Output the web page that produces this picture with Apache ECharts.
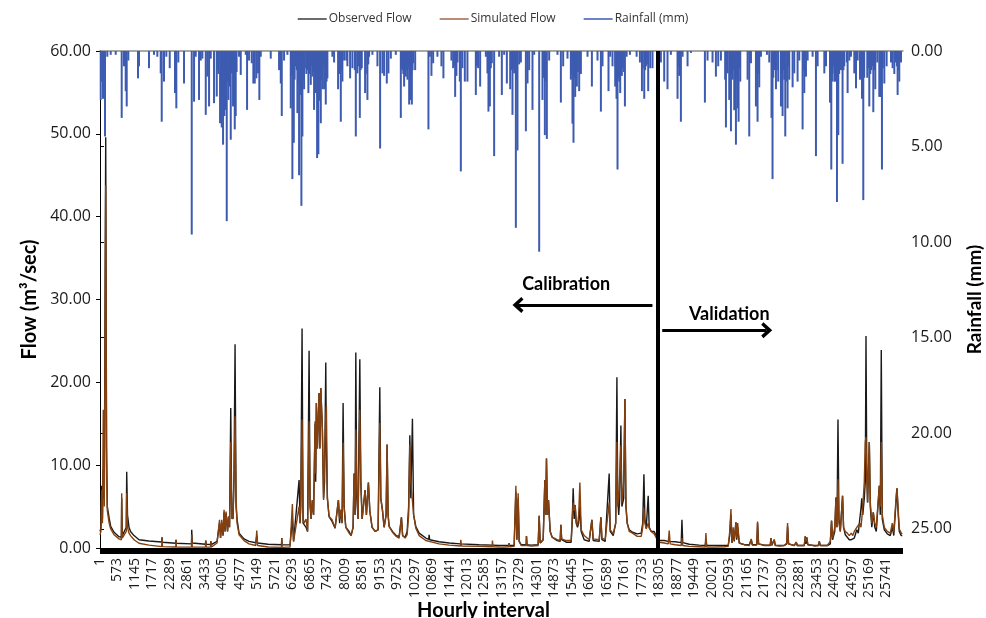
<!DOCTYPE html>
<html>
<head>
<meta charset="utf-8">
<script src="https://cdn.jsdelivr.net/npm/echarts@6/dist/echarts.min.js"></script>
<style>
  html, body { margin: 0; padding: 0; background: #fff; }
  #chart { width: 986px; height: 618px; }
</style>
</head>
<body>
<div id="chart"></div>
<script>
// Hourly record: [hour index, value]
const obsFlow = [
  [0,2.0],[30,2.4],[56,7.5],[80,3.5],[108,9.5],[140,6.0],[187,49.6],[215,12.0],[239,5.0],[300,3.6],[350,2.6],[460,1.9],[622,1.37],[700,1.3],[710,6.0],[730,1.5],[786,1.3],[860,2.5],[874,9.2],[900,4.0],[949,2.5],[1000,2.0],[1113,1.5],[1277,1.0],[1600,0.85],[2020,0.72],[2030,1.3],[2045,0.7],[2480,0.58],[2488,1.0],[2500,0.57],[2995,0.5],[3002,2.2],[3020,0.6],[3450,0.45],[3461,0.9],[3475,0.45],[3620,0.42],[3630,0.8],[3640,0.42],
  [3831,0.8],[3912,3.0],[3945,1.2],[3984,3.0],[4027,1.5],[4060,4.3],[4093,2.0],[4125,4.2],[4174,2.0],[4207,3.8],[4240,2.5],[4279,16.9],[4312,4.0],[4354,3.5],[4387,9.0],[4420,24.6],[4453,5.0],[4485,3.5],[4551,1.8],[4715,1.1],[4878,0.8],[5098,0.64],[5131,1.5],[5157,0.6],[5500,0.45],[5940,0.4],[5949,1.2],[5960,0.4],[6150,0.38],
  [6220,0.4],[6296,3.5],[6335,0.8],[6384,1.0],[6515,8.2],[6548,3.0],[6571,5.0],[6613,26.5],[6646,3.0],[6679,3.0],[6744,2.5],[6793,2.0],[6843,23.8],[6875,5.0],[6908,3.5],[6951,5.8],[6990,4.0],[7039,15.0],[7059,8.0],[7081,17.5],[7114,12.0],[7170,18.7],[7196,12.0],[7226,19.3],[7278,14.3],[7317,6.0],[7350,8.0],[7389,22.4],[7409,12.0],[7442,6.0],[7497,3.8],[7595,3.2],[7694,2.4],[7802,5.8],[7842,3.0],[7881,4.6],[7923,3.0],[7956,17.5],[7989,5.0],[8044,2.5],[8152,2.0],[8217,1.5],[8283,2.5],[8316,9.0],[8349,4.0],[8372,23.6],[8404,6.0],[8447,3.5],[8503,22.8],[8536,8.0],[8578,3.5],[8676,7.0],[8719,4.0],[8784,7.9],[8830,4.5],[8905,2.5],[9004,2.0],[9102,2.2],[9157,19.4],[9190,6.0],[9243,4.6],[9298,2.5],[9364,4.0],[9396,12.5],[9429,4.0],[9462,2.6],[9571,2.0],[9691,1.5],
  [9790,1.4],[9865,3.7],[9904,1.5],[9986,1.3],[10052,2.0],[10101,5.0],[10140,13.6],[10172,6.0],[10225,15.6],[10264,4.0],[10336,2.6],[10444,1.8],[10663,1.2],[10760,1.05],[10771,1.6],[10790,1.0],[11099,0.75],[11426,0.6],[11796,0.5],[11809,0.6],[11830,0.5],[12408,0.4],[12834,0.35],[12844,0.5],[12860,0.35],[13063,0.3],
  [13227,0.3],[13380,0.3],[13391,0.6],[13405,0.3],[13554,0.3],[13610,6.8],[13643,1.0],[13685,6.0],[13718,0.8],[13784,0.4],[13948,0.4],[13957,1.45],[13975,0.4],[14111,0.35],[14340,0.4],[14373,3.9],[14406,0.6],[14504,1.0],[14559,8.2],[14586,4.0],[14612,10.8],[14645,4.0],[14677,5.8],[14733,2.0],[14798,1.3],[14962,0.9],[15060,0.8],[15083,2.8],[15109,1.0],[15257,0.7],[15420,0.7],[15453,3.0],[15486,7.2],[15519,3.5],[15551,5.2],[15584,3.0],[15627,2.5],[15666,3.0],[15705,5.0],[15747,2.0],[15846,1.0],[16010,0.8],[16098,3.4],[16141,0.9],[16337,0.8],[16393,3.7],[16426,1.0],[16534,0.8],[16664,9.0],[16697,2.0],[16796,1.5],[16878,3.0],[16917,20.6],[16943,6.0],[16976,4.0],[17009,6.0],[17047,14.8],[17080,5.0],[17140,6.0],[17179,18.0],[17212,5.0],[17254,3.0],[17319,2.2],[17428,1.9],[17582,1.7],[17713,1.8],[17762,3.0],[17801,8.9],[17833,3.5],[17876,2.4],[17941,6.3],[17974,2.5],[18040,2.0],[18138,2.0],[18236,1.2],
  [18301,0.9],[18465,0.9],[18596,0.8],[18628,0.9],[18661,0.8],[18825,0.75],[19022,0.65],[19045,3.4],[19071,0.65],[19283,0.45],[19610,0.35],[19807,0.3],[19830,1.0],[19856,0.3],[20102,0.3],[20429,0.3],[20560,0.3],[20609,1.5],[20649,4.0],[20682,0.6],[20724,2.0],[20757,0.8],[20812,3.1],[20839,1.0],[20871,2.5],[20920,0.6],[21084,0.4],[21248,0.4],[21314,1.0],[21347,0.4],[21494,0.4],[21520,3.0],[21553,0.5],[21739,0.35],[21936,0.35],[21958,1.2],[21984,0.35],[22066,1.0],[22099,0.35],[22230,0.3],[22394,0.3],[22476,0.5],[22502,2.6],[22535,0.5],[22721,0.3],[22787,0.7],[22820,0.3],[23049,0.3],[23082,1.4],[23104,0.5],[23131,1.3],[23164,0.4],[23377,0.3],[23508,0.3],[23540,0.8],[23573,0.3],[23803,0.3],
  [23900,0.5],[23942,3.3],[23975,1.0],[24047,2.0],[24086,6.1],[24119,2.5],[24152,15.5],[24184,3.5],[24228,2.0],[24302,6.3],[24335,2.5],[24391,1.6],[24457,1.3],[24522,1.0],[24588,1.0],[24637,0.8],[24686,1.2],[24768,2.2],[24817,1.8],[24866,3.5],[24905,4.8],[24931,6.0],[24964,4.0],[25013,6.0],[25046,8.0],[25069,25.6],[25095,9.0],[25121,5.5],[25177,12.8],[25210,5.0],[25259,2.5],[25308,4.3],[25357,2.5],[25406,2.0],[25504,7.5],[25537,4.0],[25569,23.9],[25602,3.5],[25668,2.2],[25766,1.7],[25864,1.5],[25930,2.5],[25979,1.5],[26061,6.0],[26083,7.2],[26125,4.0],[26158,2.0],[26223,1.5],[26256,1.5]
];

const simFlow = [
  [0,1.6],[30,2.0],[56,7.0],[80,3.0],[108,16.7],[140,5.0],[187,43.8],[215,10.0],[239,4.5],[300,3.0],[350,2.3],[460,1.6],[622,1.1],[700,1.0],[710,6.6],[730,1.2],[786,1.0],[860,2.0],[874,6.6],[900,2.5],[949,1.8],[1000,1.5],[1113,1.0],[1277,0.57],[1600,0.35],[2020,0.16],[2030,1.3],[2045,0.16],[2480,0.12],[2488,1.0],[2500,0.12],[2995,0.1],[3002,1.6],[3020,0.12],[3450,0.1],[3461,0.9],[3475,0.1],[3620,0.1],[3630,0.8],[3640,0.1],
  [3831,0.6],[3912,3.4],[3945,1.2],[3984,3.4],[4027,1.5],[4060,4.6],[4093,2.0],[4125,4.4],[4174,2.0],[4207,3.8],[4240,2.5],[4279,12.8],[4312,3.5],[4354,3.8],[4387,8.5],[4420,15.9],[4453,6.0],[4485,3.0],[4551,1.6],[4715,0.9],[4878,0.5],[5098,0.3],[5131,2.1],[5157,0.3],[5500,0.12],[5940,0.08],[5949,1.2],[5960,0.08],[6150,0.1],
  [6220,0.1],[6296,5.3],[6335,0.8],[6384,1.0],[6515,5.0],[6548,3.0],[6571,6.0],[6613,15.5],[6646,3.5],[6679,3.0],[6744,3.5],[6793,2.0],[6843,15.3],[6875,6.0],[6908,3.5],[6951,5.8],[6990,4.0],[7039,15.3],[7059,9.0],[7081,17.5],[7114,12.0],[7170,18.7],[7196,12.0],[7226,19.3],[7278,14.3],[7317,5.8],[7350,10.0],[7389,16.0],[7409,17.1],[7442,6.0],[7497,3.8],[7595,3.4],[7694,2.4],[7802,5.8],[7842,3.5],[7881,4.6],[7923,3.0],[7956,12.7],[7989,5.0],[8044,2.5],[8152,1.8],[8217,1.5],[8283,2.5],[8316,9.0],[8349,4.0],[8372,14.3],[8404,7.0],[8447,3.5],[8503,16.7],[8536,8.0],[8578,3.5],[8676,7.0],[8719,4.0],[8784,7.9],[8830,4.5],[8905,2.5],[9004,2.0],[9102,2.2],[9157,15.1],[9190,6.0],[9243,4.6],[9298,2.5],[9364,4.0],[9396,12.5],[9429,4.0],[9462,2.6],[9571,1.9],[9691,1.4],
  [9790,1.2],[9865,3.7],[9904,1.5],[9986,1.2],[10052,1.6],[10101,4.0],[10140,12.5],[10172,8.0],[10225,8.0],[10264,4.0],[10336,2.4],[10444,1.5],[10663,0.9],[10771,0.8],[11099,0.5],[11426,0.35],[11796,0.25],[11809,1.0],[11830,0.25],[12408,0.2],[12834,0.15],[12844,0.9],[12860,0.15],[13063,0.12],
  [13227,0.1],[13380,0.15],[13391,0.6],[13405,0.15],[13554,0.2],[13610,7.5],[13643,1.0],[13685,6.6],[13718,0.8],[13784,0.3],[13948,0.3],[13957,1.45],[13975,0.3],[14111,0.25],[14340,0.3],[14373,3.9],[14406,0.6],[14504,1.0],[14559,8.2],[14586,4.0],[14612,10.8],[14645,4.0],[14677,5.8],[14733,2.0],[14798,1.3],[14962,1.0],[15060,0.9],[15083,2.8],[15109,1.1],[15257,0.9],[15420,0.9],[15453,3.5],[15486,5.5],[15519,4.5],[15551,5.2],[15584,3.2],[15627,2.7],[15666,4.0],[15705,7.9],[15747,2.2],[15846,1.5],[16010,1.0],[16098,3.4],[16141,1.1],[16337,1.0],[16393,3.7],[16426,1.2],[16534,1.0],[16664,5.5],[16697,2.2],[16796,1.7],[16878,3.0],[16917,12.8],[16943,5.0],[16976,6.0],[17009,6.0],[17047,12.4],[17080,5.5],[17140,8.0],[17179,18.0],[17212,5.2],[17254,3.0],[17319,2.0],[17428,1.8],[17582,1.4],[17713,1.4],[17762,2.5],[17801,4.8],[17833,3.0],[17876,2.3],[17941,3.0],[17974,2.4],[18040,2.0],[18138,1.7],[18236,1.0],
  [18301,0.7],[18465,0.6],[18596,0.5],[18628,2.1],[18661,0.5],[18825,0.4],[19022,0.3],[19045,1.2],[19071,0.3],[19283,0.2],[19610,0.15],[19807,0.1],[19830,1.8],[19856,0.1],[20102,0.1],[20429,0.15],[20560,0.2],[20609,2.0],[20649,4.7],[20682,0.6],[20724,2.5],[20757,0.9],[20812,3.1],[20839,1.2],[20871,3.0],[20920,0.6],[21084,0.4],[21248,0.3],[21314,1.1],[21347,0.35],[21494,0.35],[21520,3.2],[21553,0.5],[21739,0.3],[21936,0.3],[21958,1.2],[21984,0.3],[22066,1.0],[22099,0.3],[22230,0.25],[22394,0.3],[22476,0.6],[22502,3.0],[22535,0.5],[22721,0.3],[22787,0.7],[22820,0.3],[23049,0.3],[23082,1.4],[23104,0.8],[23131,1.3],[23164,0.4],[23377,0.25],[23508,0.3],[23540,0.8],[23573,0.3],[23803,0.3],
  [23900,0.8],[23942,3.3],[23975,1.2],[24047,2.5],[24086,6.1],[24119,2.5],[24152,8.3],[24184,3.0],[24228,2.0],[24302,6.3],[24335,2.5],[24391,2.0],[24457,1.8],[24522,1.5],[24588,1.8],[24637,1.5],[24686,2.0],[24768,2.5],[24817,2.4],[24866,3.0],[24905,2.5],[24931,3.5],[24964,5.0],[25013,8.0],[25046,12.8],[25069,13.4],[25095,9.0],[25121,5.5],[25177,12.8],[25210,5.5],[25259,3.0],[25308,4.3],[25357,3.0],[25406,2.5],[25504,7.5],[25537,5.0],[25569,12.8],[25602,4.0],[25668,2.5],[25766,2.0],[25864,1.8],[25930,3.0],[25979,1.9],[26061,6.5],[26083,7.2],[26125,4.5],[26158,2.3],[26223,1.8],[26256,1.7]
];

const rainfall = [
  [23,2.56],[65,1.6],[98,2.5],[164,4.47],[239,0.3],[350,0.2],[514,0.2],[710,3.5],[786,0.8],[841,2.1],[874,2.9],[927,0.5],[1244,1.43],[1277,0.8],[1604,0.9],[1768,0.2],[1876,0.3],[1987,1.17],[2020,3.7],[2095,1.6],[2171,0.3],[2282,0.9],[2455,2.2],[2498,3.0],[2563,0.6],[2750,1.7],[3002,9.6],[3078,2.65],[3133,0.3],[3241,2.56],[3297,0.5],[3350,0.4],[3461,3.34],[3513,1.34],[3569,2.9],[3624,0.4],[3732,2.73],
  [3821,2.38],[3873,1.2],[3929,3.78],[3984,4.0],[4027,4.9],[4070,3.4],[4116,3.08],[4148,8.9],[4201,2.56],[4246,1.86],[4279,4.64],[4312,1.17],[4354,2.9],[4410,4.1],[4442,3.4],[4551,0.3],[4606,1.25],[4770,0.2],[4813,3.08],[4878,0.5],[4966,0.64],[5019,1.7],[5065,1.7],[5117,1.43],[5173,1.17],[5215,2.56],[5261,0.3],[5588,0.4],[5860,1.0],[5916,1.7],[5949,3.4],[6024,0.5],[6133,0.2],
  [6243,3.0],[6296,6.7],[6342,4.8],[6408,0.8],[6460,3.25],[6515,6.5],[6591,8.1],[6624,4.47],[6679,2.0],[6754,1.2],[6820,2.2],[6898,1.77],[6951,1.34],[7006,3.08],[7062,2.2],[7105,5.6],[7147,5.4],[7226,3.78],[7278,2.0],[7334,2.0],[7389,2.8],[7442,1.43],[7605,0.3],[7661,0.6],[7792,2.0],[7881,3.7],[7933,1.6],[7989,0.5],[8097,0.8],[8185,1.43],[8261,0.9],[8372,4.47],[8425,1.17],[8503,3.5],[8568,0.9],[8676,2.2],[8752,2.56],[8807,0.3],[8916,0.2],[9080,0.8],[9167,5.1],[9243,1.17],[9298,1.3],[9386,1.7],[9440,1.17],
  [9518,0.4],[9681,0.2],[9845,3.5],[9898,1.0],[9953,1.86],[10009,1.34],[10063,1.5],[10118,2.8],[10172,2.56],[10206,2.8],[10248,0.64],[10314,1.0],[10749,4.1],[10794,0.3],[10847,1.3],[10903,0.64],[11043,0.3],[11174,0.8],[11239,1.43],[11501,0.5],[11557,0.9],[11623,2.4],[11665,1.3],[11776,1.6],[11809,6.3],[11862,0.9],[11940,1.6],[12025,1.6],[12300,2.3],[12375,0.9],[12441,1.86],[12628,0.3],[12680,1.17],[12713,3.17],[12759,2.9],[12824,0.64],[12899,5.5],
  [13063,0.3],[13151,2.3],[13227,0.2],[13315,1.7],[13424,2.0],[13499,3.34],[13554,1.17],[13610,9.25],[13663,5.2],[13718,0.7],[13774,0.6],[13938,4.2],[13992,1.7],[14045,1.0],[14154,3.08],[14209,0.2],[14373,10.5],[14481,2.56],[14559,4.4],[14624,4.6],[14700,0.5],[14972,0.2],[15083,2.7],[15158,0.8],[15300,0.4],[15410,1.5],[15463,3.8],[15496,4.8],[15551,2.4],[15606,1.86],[15682,2.1],[15738,1.2],[15955,0.3],[16098,1.86],[16282,0.5],[16393,3.17],[16446,0.8],[16642,2.1],[16697,0.3],[16773,0.8],[16861,1.86],[16904,2.5],[16937,6.2],[16992,1.6],[17025,2.2],[17080,1.3],[17179,2.9],[17235,0.3],[17343,0.2],[17562,0.3],[17670,0.6],[17736,2.1],[17811,2.5],[17866,0.8],[17941,2.1],[18007,0.9],[18082,0.9],
  [18356,0.6],[18465,1.6],[18573,2.0],[18683,0.2],[18901,2.5],[18956,1.3],[19011,3.7],[19066,0.3],[19229,0.8],[19340,0.1],[19797,2.7],[19883,0.5],[20047,0.6],[20157,1.34],[20232,0.8],[20321,0.5],[20485,4.0],[20540,1.17],[20593,2.56],[20649,4.2],[20703,1.5],[20757,3.1],[20812,4.9],[20867,3.0],[20899,3.7],[20954,1.6],[21194,1.5],[21248,4.47],[21304,0.64],[21467,2.9],[21520,3.7],[21575,1.9],[21631,0.3],[21827,0.2],[21903,0.6],[21977,3.5],[22010,6.7],[22066,1.0],[22122,2.0],[22197,1.6],[22286,2.9],[22339,3.4],[22394,1.5],[22427,4.47],[22502,3.0],[22557,1.5],[22667,1.9],[22721,1.17],[22830,1.6],[22885,0.5],[22994,4.1],[23049,2.2],[23104,1.34],[23159,0.5],[23322,0.3],[23431,5.5],[23486,0.8],[23705,1.17],[23760,0.8],
  [23890,2.7],[23933,6.2],[23975,1.17],[24031,1.6],[24064,1.6],[24119,7.9],[24162,4.4],[24250,1.0],[24302,5.9],[24358,0.8],[24467,2.2],[24522,0.5],[24577,0.3],[24686,1.17],[24741,1.95],[24796,0.5],[24872,1.5],[24938,2.5],[24980,7.8],[25111,1.4],[25177,2.9],[25242,1.0],[25308,3.2],[25373,2.0],[25439,0.6],[25504,2.4],[25560,2.4],[25591,6.2],[25668,1.7],[25744,0.8],[25887,0.6],[25940,0.9],[25995,1.2],[26050,0.6],[26104,2.3],[26158,1.6],[26214,0.6],
  // light showers inside the wet spells
  [3850,1.0],[3960,1.5],[4000,2.2],[4050,1.8],[4095,1.4],[4175,1.6],[4225,1.2],[4330,0.9],[4380,1.6],[4470,1.1],
  [6270,1.3],[6320,2.0],[6370,1.5],[6440,1.0],[6490,1.8],[6545,2.3],[6650,1.5],[6705,0.9],[6790,1.0],[6860,1.2],[6925,0.8],[6980,1.1],[7035,1.4],[7085,1.2],[7125,2.4],[7175,1.8],[7200,2.6],[7250,1.5],[7305,0.8],[7360,1.1],[7415,1.6],
  [7840,1.2],[7905,1.0],[8060,0.5],[8340,1.0],[8460,0.8],[8530,1.0],[8700,1.2],[8780,0.7],
  [9870,0.9],[9925,1.2],[9980,0.8],[10035,1.0],[10090,0.9],[10145,1.6],[10190,1.2],[10230,1.0],
  [11590,0.8],[11700,0.6],[12330,0.8],[12730,1.2],[12790,0.9],[13470,1.0],[13530,0.9],[13640,1.5],[14520,1.4],[14590,1.6],
  [15440,1.2],[15480,1.6],[15520,1.4],[15580,1.0],[15640,1.1],[16870,0.8],[16960,1.4],[17050,1.0],[17110,0.9],[17150,1.1],
  [17760,0.9],[17840,1.0],[17900,0.7],[18920,0.8],[18985,1.0],
  [20460,1.5],[20510,1.0],[20620,1.6],[20680,1.2],[20730,1.0],[20785,1.6],[20840,1.4],[20930,0.9],
  [21490,1.0],[21545,1.2],[22035,1.4],[22150,1.0],[22310,1.2],[22365,1.0],[22450,1.6],[22530,0.8],[23020,1.0],[23075,0.8],
  [23910,1.2],[23955,1.6],[24005,0.8],[24090,1.4],[24140,2.0],[24190,1.2],[24220,0.8],[24330,1.0],[24440,0.6],
  [24905,1.0],[24955,1.2],[25010,1.4],[25140,0.9],[25210,1.2],[25275,0.8],[25340,1.0],[25530,1.2],[25620,0.9],[26080,0.8],[26130,1.0]
];

// Axis settings
const hourMax = 26280;
const hourStep = 572;
const lastHourTick = 25740;
const flowMax = 60, flowStep = 10;
const rainMax = 26, rainStep = 5, lastRainTick = 25;

// Calibration / validation split and annotation anchors (hour, flow)
const splitHour = 18240;
const calibArrow = [[18080, 29.35], [13680, 29.35]];
const validArrow = [[18400, 26.3], [21820, 26.3]];
const calibLabel = [15257, 31.9];
const validLabel = [20593, 28.2];

const chevron = 'path://M5,0L10,6L8.4,7.5L5,3.6L1.6,7.5L0,6Z';

const chart = echarts.init(document.getElementById('chart'), null, { renderer: 'canvas' });

const labelFont = 'Open Sans';
const titleFont = 'Lato';

chart.setOption({
  animation: false,
  backgroundColor: '#ffffff',
  textStyle: { fontFamily: labelFont },
  legend: {
    top: 8,
    left: 'center',
    icon: 'rect',
    itemWidth: 29,
    itemHeight: 1.5,
    itemGap: 28,
    textStyle: { fontSize: 12, color: '#333', fontFamily: labelFont, padding: [0, 0, 0, -3] },
    data: ['Observed Flow', 'Simulated Flow', 'Rainfall (mm)']
  },
  grid: { left: 100, right: 83, top: 51, bottom: 70, containLabel: false, outerBoundsMode: 'none' },
  xAxis: [
    {
      type: 'value',
      min: 0,
      max: hourMax,
      interval: hourStep,
      position: 'bottom',
      offset: 3,
      axisLine: { show: true, onZero: false, lineStyle: { color: '#000', width: 6, cap: 'butt' } },
      axisTick: { show: false },
      splitLine: { show: false },
      axisLabel: {
        rotate: 90,
        margin: 7,
        fontSize: 14,
        color: '#1a1a1a',
        fontFamily: labelFont,
        showMaxLabel: false,
        formatter: v => (v > lastHourTick ? '' : String(v + 1))
      },
      name: 'Hourly interval',
      nameLocation: 'middle',
      nameGap: 50,
      nameMoveOverlap: false,
      nameTextStyle: { fontFamily: titleFont, fontWeight: 'bold', fontSize: 20, color: '#000', padding: [0, 36, 0, 0] }
    },
    {
      type: 'value',
      min: 0,
      max: hourMax,
      position: 'top',
      axisLine: { show: true, onZero: false, lineStyle: { color: '#8c8c8c', width: 1.5 } },
      axisTick: { show: false },
      axisLabel: { show: false },
      splitLine: { show: false }
    }
  ],
  yAxis: [
    {
      type: 'value',
      min: 0,
      max: flowMax,
      interval: flowStep,
      position: 'left',
      axisLine: { show: true, lineStyle: { color: '#000', width: 1 } },
      axisTick: { show: true, length: 4, lineStyle: { color: '#000' } },
      splitLine: { show: false },
      axisLabel: { fontSize: 16, color: '#1a1a1a', margin: 9, fontFamily: labelFont, formatter: v => v.toFixed(2) },
      name: 'Flow (m³/sec)',
      nameLocation: 'middle',
      nameRotate: 90,
      nameGap: 60,
      nameMoveOverlap: false,
      nameTextStyle: { fontFamily: titleFont, fontWeight: 'bold', fontSize: 20, color: '#000' }
    },
    {
      type: 'value',
      min: 0,
      max: rainMax,
      interval: rainStep,
      inverse: true,
      position: 'right',
      axisLine: { show: true, lineStyle: { color: '#000', width: 1 } },
      axisTick: { show: true, length: 4, lineStyle: { color: '#000' } },
      splitLine: { show: false },
      axisLabel: {
        fontSize: 16, color: '#1a1a1a', margin: 8, fontFamily: labelFont,
        showMaxLabel: false,
        formatter: v => (v > lastRainTick ? '' : v.toFixed(2))
      },
      name: 'Rainfall (mm)',
      nameLocation: 'middle',
      nameRotate: 90,
      nameGap: 62,
      nameMoveOverlap: false,
      nameTextStyle: { fontFamily: titleFont, fontWeight: 'bold', fontSize: 19, color: '#000' }
    }
  ],
  series: [
    {
      name: 'Observed Flow',
      type: 'line',
      xAxisIndex: 0,
      yAxisIndex: 0,
      data: obsFlow,
      showSymbol: false,
      symbol: 'none',
      lineStyle: { color: '#1a1a1a', width: 1.4 },
      itemStyle: { color: '#3a3a3a' },
      z: 2
    },
    {
      name: 'Simulated Flow',
      type: 'line',
      xAxisIndex: 0,
      yAxisIndex: 0,
      data: simFlow,
      showSymbol: false,
      symbol: 'none',
      lineStyle: { color: '#84400f', width: 1.4 },
      itemStyle: { color: '#a06a48' },
      z: 3,
      markLine: {
        silent: true,
        symbol: ['none', 'none'],
        label: { show: false },
        animation: false,
        data: [
          [
            { coord: calibArrow[0], symbol: 'none', lineStyle: { color: '#000', width: 3, type: 'solid' } },
            { coord: calibArrow[1], symbol: chevron, symbolSize: [16, 11] }
          ],
          [
            { coord: validArrow[0], symbol: 'none', lineStyle: { color: '#000', width: 3, type: 'solid' } },
            { coord: validArrow[1], symbol: chevron, symbolSize: [16, 11] }
          ]
        ]
      },
      markPoint: {
        silent: true,
        symbol: 'rect',
        symbolSize: 1,
        itemStyle: { color: 'rgba(0,0,0,0)' },
        label: { show: true, position: 'inside', fontFamily: titleFont, fontWeight: 'bold', fontSize: 18, color: '#000' },
        data: [
          { coord: calibLabel, value: 0, label: { formatter: 'Calibration' } },
          { coord: validLabel, value: 0, label: { formatter: 'Validation' } }
        ]
      }
    },
    {
      name: 'Rainfall (mm)',
      type: 'bar',
      xAxisIndex: 0,
      yAxisIndex: 1,
      data: rainfall,
      barWidth: 2,
      itemStyle: { color: '#3d5bb0' },
      z: 4,
      markLine: {
        silent: true,
        symbol: ['none', 'none'],
        label: { show: false },
        animation: false,
        data: [
          { xAxis: splitHour, lineStyle: { color: '#000', width: 4, type: 'solid' } }
        ]
      }
    }
  ]
});
</script>
</body>
</html>
